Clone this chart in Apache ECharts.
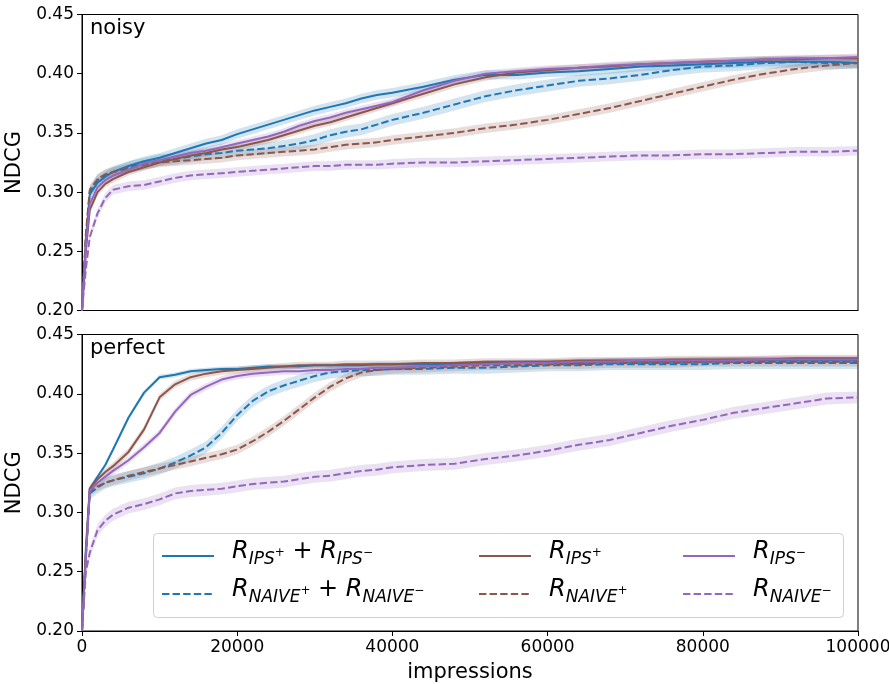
<!DOCTYPE html>
<html><head><meta charset="utf-8">
<script src="https://cdn.jsdelivr.net/npm/echarts@6/dist/echarts.min.js"></script>
<style>html,body{margin:0;padding:0;background:#fff}#c{width:889px;height:684px}</style>
</head><body><div id="c"></div>
<script>
// impressions (x)
var X = [0,500,1000,2000,3000,4000,6000,8000,10000,12000,14000,16000,18000,20000,22000,24000,26000,28000,30000,32000,34000,36000,38000,40000,44000,48000,52000,56000,60000,64000,68000,72000,76000,80000,84000,88000,92000,96000,100000];
var xTicks = [0,20000,40000,60000,80000,100000];
var yTicks = [0.20,0.25,0.30,0.35,0.40,0.45];
var panelLabels = ['noisy','perfect'];
var seriesNames = ['R_IPS+ + R_IPS−','R_NAIVE+ + R_NAIVE−','R_IPS+','R_NAIVE+','R_IPS−','R_NAIVE−'];

// noisy panel
var noisyIpsBoth   = [0.200,0.260,0.298,0.308,0.313,0.317,0.322,0.326,0.329,0.333,0.337,0.341,0.344,0.349,0.353,0.357,0.361,0.365,0.369,0.372,0.375,0.379,0.382,0.384,0.389,0.395,0.399,0.399,0.401,0.402,0.404,0.406,0.407,0.408,0.409,0.410,0.410,0.410,0.409];
var noisyNaiveBoth = [0.200,0.262,0.300,0.310,0.314,0.317,0.321,0.324,0.327,0.328,0.330,0.332,0.333,0.335,0.336,0.337,0.339,0.341,0.344,0.348,0.351,0.353,0.357,0.361,0.367,0.374,0.381,0.386,0.390,0.394,0.396,0.399,0.403,0.406,0.407,0.409,0.410,0.409,0.409];
var noisyIpsPlus   = [0.200,0.250,0.285,0.300,0.307,0.311,0.317,0.321,0.325,0.328,0.331,0.333,0.336,0.338,0.341,0.344,0.348,0.352,0.356,0.359,0.363,0.367,0.371,0.375,0.383,0.391,0.397,0.401,0.403,0.405,0.406,0.408,0.409,0.410,0.411,0.412,0.412,0.413,0.413];
var noisyNaivePlus = [0.200,0.265,0.302,0.311,0.315,0.317,0.320,0.323,0.325,0.326,0.327,0.328,0.329,0.331,0.332,0.333,0.334,0.335,0.336,0.338,0.340,0.341,0.342,0.344,0.347,0.350,0.354,0.357,0.361,0.366,0.371,0.377,0.383,0.389,0.395,0.400,0.404,0.407,0.409];
var noisyIpsMinus  = [0.200,0.255,0.290,0.304,0.310,0.314,0.319,0.324,0.327,0.330,0.333,0.335,0.338,0.341,0.344,0.347,0.351,0.356,0.360,0.363,0.367,0.370,0.373,0.376,0.386,0.394,0.400,0.402,0.404,0.405,0.407,0.408,0.409,0.410,0.411,0.412,0.413,0.413,0.414];
var noisyNaiveMinus= [0.200,0.235,0.262,0.282,0.295,0.302,0.305,0.306,0.309,0.312,0.314,0.315,0.316,0.317,0.318,0.319,0.320,0.321,0.322,0.322,0.323,0.323,0.323,0.324,0.325,0.325,0.326,0.327,0.328,0.329,0.330,0.331,0.331,0.332,0.332,0.333,0.334,0.334,0.335];
// perfect panel
var perfIpsBoth    = [0.200,0.270,0.320,0.330,0.340,0.353,0.380,0.401,0.414,0.416,0.419,0.420,0.421,0.421,0.422,0.423,0.423,0.423,0.424,0.424,0.424,0.424,0.425,0.425,0.425,0.425,0.426,0.426,0.426,0.426,0.427,0.427,0.427,0.427,0.428,0.428,0.428,0.428,0.428];
var perfNaiveBoth  = [0.200,0.262,0.316,0.321,0.325,0.327,0.330,0.333,0.337,0.342,0.348,0.355,0.367,0.382,0.394,0.402,0.407,0.411,0.415,0.418,0.419,0.420,0.420,0.421,0.421,0.422,0.422,0.423,0.424,0.424,0.425,0.425,0.425,0.425,0.426,0.426,0.426,0.426,0.426];
var perfIpsPlus    = [0.200,0.265,0.320,0.328,0.334,0.339,0.351,0.370,0.397,0.408,0.414,0.417,0.419,0.420,0.421,0.422,0.423,0.424,0.424,0.424,0.425,0.425,0.425,0.425,0.426,0.426,0.427,0.427,0.427,0.428,0.428,0.428,0.429,0.429,0.429,0.429,0.430,0.430,0.430];
var perfNaivePlus  = [0.200,0.265,0.318,0.322,0.325,0.327,0.331,0.334,0.337,0.340,0.343,0.346,0.349,0.353,0.360,0.368,0.377,0.387,0.397,0.406,0.413,0.418,0.420,0.421,0.422,0.423,0.424,0.424,0.425,0.425,0.426,0.426,0.426,0.427,0.427,0.427,0.427,0.427,0.427];
var perfIpsMinus   = [0.200,0.262,0.318,0.325,0.330,0.335,0.344,0.355,0.367,0.385,0.399,0.406,0.412,0.415,0.417,0.418,0.419,0.419,0.420,0.420,0.421,0.421,0.422,0.422,0.423,0.424,0.425,0.426,0.426,0.427,0.427,0.428,0.428,0.428,0.428,0.429,0.429,0.429,0.429];
var perfNaiveMinus = [0.200,0.250,0.266,0.285,0.293,0.298,0.304,0.307,0.311,0.316,0.318,0.319,0.320,0.322,0.324,0.325,0.326,0.328,0.330,0.331,0.333,0.335,0.336,0.338,0.340,0.341,0.345,0.348,0.352,0.357,0.361,0.367,0.373,0.378,0.384,0.388,0.392,0.396,0.397];

// confidence half-widths (same order as seriesNames)
var noisyCI = [0.004,0.005,0.003,0.004,0.003,0.004];
var perfCI  = [0.002,0.005,0.003,0.004,0.003,0.005];

var noisyData = [noisyIpsBoth,noisyNaiveBoth,noisyIpsPlus,noisyNaivePlus,noisyIpsMinus,noisyNaiveMinus];
var perfData  = [perfIpsBoth,perfNaiveBoth,perfIpsPlus,perfNaivePlus,perfIpsMinus,perfNaiveMinus];

var BLUE='#1f77b4', BROWN='#8c564b', PURPLE='#9467bd';
var colors = [BLUE,BLUE,BROWN,BROWN,PURPLE,PURPLE];
var dashed = [false,true,false,true,false,true];
var FONT = 'DejaVu Sans';
var YMIN = yTicks[0], YMAX = yTicks[yTicks.length-1];

function pairs(ys){ return X.map(function(x,i){ return [x, ys[i]]; }); }

function band(idx, ys, ci, color){
  return {
    type:'custom', xAxisIndex:idx, yAxisIndex:idx, silent:true, z:1,
    data:[[X[0], ys[0]]], encode:{x:0,y:1},
    renderItem:function(params, api){
      var pts=[], i;
      for(i=0;i<X.length;i++) pts.push(api.coord([X[i], Math.min(YMAX, ys[i]+ci)]));
      for(i=X.length-1;i>=0;i--) pts.push(api.coord([X[i], Math.max(YMIN, ys[i]-ci)]));
      return {type:'polygon', shape:{points:pts}, style:{fill:color, opacity:0.2}};
    }
  };
}

var series = [];
[noisyData, perfData].forEach(function(panel, p){
  var cis = p===0 ? noisyCI : perfCI;
  panel.forEach(function(ys, k){ series.push(band(p, ys, cis[k], colors[k])); });
  panel.forEach(function(ys, k){
    series.push({
      type:'line', name:seriesNames[k], xAxisIndex:p, yAxisIndex:p,
      data:pairs(ys), symbol:'none', showSymbol:false, z:3,
      lineStyle:{color:colors[k], width:2, type: dashed[k] ? [7.4,3.2] : 'solid'},
      itemStyle:{color:colors[k]}
    });
  });
});

var legendRich = {
  r:{fontFamily:FONT, fontStyle:'italic', fontSize:24, lineHeight:24, padding:[0,0,4,0], verticalAlign:'bottom', color:'#000'},
  s:{fontFamily:FONT, fontStyle:'italic', fontSize:17, lineHeight:17, padding:[0,0,0,0], verticalAlign:'bottom', color:'#000'},
  p:{fontFamily:FONT, fontStyle:'normal', fontSize:12, lineHeight:12, padding:[0,0,9,0], verticalAlign:'bottom', color:'#000'},
  o:{fontFamily:FONT, fontStyle:'normal', fontSize:24, lineHeight:24, padding:[0,0,4,0], verticalAlign:'bottom', color:'#000'}
};
var legendText = {};
legendText[seriesNames[0]] = '{r|R}{s|IPS}{p|+}{o| + }{r|R}{s|IPS}{p|−}';
legendText[seriesNames[1]] = '{r|R}{s|NAIVE}{p|+}{o| + }{r|R}{s|NAIVE}{p|−}';
legendText[seriesNames[2]] = '{r|R}{s|IPS}{p|+}';
legendText[seriesNames[3]] = '{r|R}{s|NAIVE}{p|+}';
legendText[seriesNames[4]] = '{r|R}{s|IPS}{p|−}';
legendText[seriesNames[5]] = '{r|R}{s|NAIVE}{p|−}';

function mkLegend(left, names){
  return {
    orient:'vertical', left:left, top:540, padding:0, itemGap:10,
    itemWidth:52, itemHeight:14, data:names,
    formatter:function(n){ return legendText[n]; },
    itemStyle:{opacity:0},
    textStyle:{rich:legendRich, padding:[0,0,0,13]},
    selectedMode:false
  };
}

var grids = [
  {left:82, top:14.5, width:776, height:296, show:true, borderColor:'#000', borderWidth:1, containLabel:false, outerBoundsMode:'none'},
  {left:82, top:334.5, width:776, height:296.5, show:true, borderColor:'#000', borderWidth:1, containLabel:false, outerBoundsMode:'none'}
];

function xAx(i){
  return {
    type:'value', gridIndex:i, min:xTicks[0], max:xTicks[xTicks.length-1], interval:20000,
    axisLine:{show:true, onZero:false, lineStyle:{color:'#000', width:1}},
    axisTick:{show:i===1, length:5, lineStyle:{color:'#000'}},
    axisLabel:{show:i===1, color:'#000', fontFamily:FONT, fontSize:17, margin:8, formatter:function(v){return String(v);}},
    splitLine:{show:false},
    name: i===1 ? 'impressions' : '', nameLocation:'middle', nameGap:31,
    nameTextStyle:{color:'#000', fontFamily:FONT, fontSize:21}
  };
}
function yAx(i){
  return {
    type:'value', gridIndex:i, min:YMIN, max:YMAX, interval:0.05,
    axisLine:{show:true, onZero:false, lineStyle:{color:'#000', width:1}},
    axisTick:{show:true, length:5, lineStyle:{color:'#000'}},
    axisLabel:{color:'#000', fontFamily:FONT, fontSize:17, margin:8, formatter:function(v){return v.toFixed(2);}},
    splitLine:{show:false},
    name:'NDCG', nameLocation:'middle', nameGap:54,
    nameTextStyle:{color:'#000', fontFamily:FONT, fontSize:21}
  };
}

var chart = echarts.init(document.getElementById('c'), null, {renderer:'canvas'});
chart.setOption({
  animation:false,
  backgroundColor:'#fff',
  title:[
    {text:panelLabels[0], left:90, top:18, padding:0, textStyle:{fontFamily:FONT, fontSize:21, fontWeight:'normal', color:'#000'}},
    {text:panelLabels[1], left:90, top:338, padding:0, textStyle:{fontFamily:FONT, fontSize:21, fontWeight:'normal', color:'#000'}}
  ],
  grid:grids,
  xAxis:[xAx(0), xAx(1)],
  yAxis:[yAx(0), yAx(1)],
  legend:[
    mkLegend(161, [seriesNames[0], seriesNames[1]]),
    mkLegend(478, [seriesNames[2], seriesNames[3]]),
    mkLegend(682, [seriesNames[4], seriesNames[5]])
  ],
  graphic:[{
    type:'rect', left:153, top:533, z:2,
    shape:{width:690, height:84, r:4},
    style:{fill:'rgba(255,255,255,0.8)', stroke:'#d0d0d0', lineWidth:1}
  }],
  series:series
});
</script></body></html>
